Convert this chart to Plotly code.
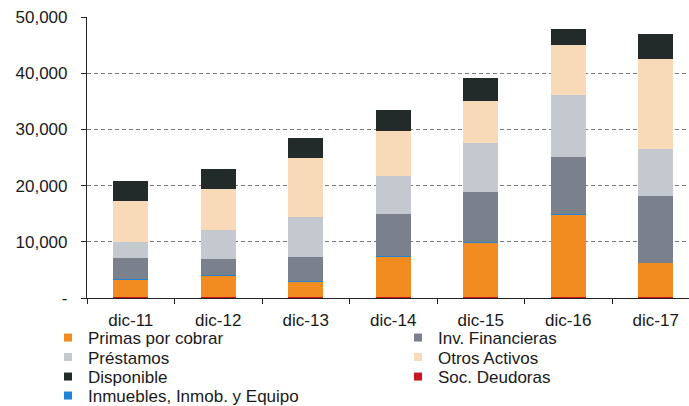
import plotly.graph_objects as go

categories = ["dic-11", "dic-12", "dic-13", "dic-14", "dic-15", "dic-16", "dic-17"]

soc_deudoras = [150, 120, 100, 120, 130, 150, 150]
primas_por_cobrar = [3200, 3900, 2800, 7300, 9800, 14700, 6100]
inmuebles = [50, 50, 50, 50, 50, 50, 60]
inv_financieras = [3650, 2950, 4350, 7400, 8900, 10200, 11800]
prestamos = [2900, 5000, 7200, 6800, 8700, 11000, 8400]
otros_activos = [7300, 7400, 10400, 8000, 7500, 9000, 16100]
disponible = [3600, 3500, 3600, 3800, 4100, 2800, 4400]

y_tickvals = [0, 10000, 20000, 30000, 40000, 50000]
y_ticktext = ["-", "10,000", "20,000", "30,000", "40,000", "50,000"]

# stacking order (bottom -> top)
series = [
    ("Soc. Deudoras", soc_deudoras, "#C8161D"),
    ("Primas por cobrar", primas_por_cobrar, "#F28C21"),
    ("Inmuebles, Inmob. y Equipo", inmuebles, "#1F86D6"),
    ("Inv. Financieras", inv_financieras, "#7B818C"),
    ("Préstamos", prestamos, "#C4C9CF"),
    ("Otros Activos", otros_activos, "#F8DAB8"),
    ("Disponible", disponible, "#232B2A"),
]
colors = {name: color for name, _, color in series}

# legend layout: (name, column, row)
legend_layout = [
    ("Primas por cobrar", 0, 0),
    ("Inv. Financieras", 1, 0),
    ("Préstamos", 0, 1),
    ("Otros Activos", 1, 1),
    ("Disponible", 0, 2),
    ("Soc. Deudoras", 1, 2),
    ("Inmuebles, Inmob. y Equipo", 0, 3),
]

font_family = "Liberation Sans, Arial, sans-serif"
W, H = 689, 406
ML, MR, MT, MB = 87, 0, 17, 108
plot_w = W - ML - MR
plot_h = H - MT - MB

fig = go.Figure()
for name, vals, color in series:
    fig.add_trace(go.Bar(
        x=categories, y=vals, name=name,
        marker=dict(color=color, line=dict(width=0)),
        width=0.4, showlegend=False,
    ))

col_text_px = [88, 438]
row_center_px = [338, 357.5, 377, 396]
legend_defs = {}
for i, (name, col, row) in enumerate(legend_layout):
    key = "legend" if i == 0 else f"legend{i + 1}"
    fig.add_trace(go.Scatter(
        x=[None], y=[None], mode="markers", name=name,
        marker=dict(symbol="square", size=8, color=colors[name]),
        legend=key, showlegend=True, hoverinfo="skip",
    ))
    left_px = col_text_px[col] - 40
    legend_defs[key] = dict(
        x=(left_px - ML) / plot_w,
        y=(MT + plot_h - row_center_px[row]) / plot_h,
        xanchor="left", yanchor="middle",
        orientation="v", itemwidth=30,
        bgcolor="rgba(0,0,0,0)", borderwidth=0,
        font=dict(size=17, family=font_family, color="#1a1a1a"),
    )

fig.update_layout(
    barmode="stack",
    width=W, height=H,
    margin=dict(l=ML, r=MR, t=MT, b=MB, autoexpand=False),
    plot_bgcolor="white", paper_bgcolor="white",
    font=dict(family=font_family, size=17, color="#1a1a1a"),
    showlegend=True,
    xaxis=dict(
        range=[-0.5, 6.38],
        showline=True, linecolor="#222", linewidth=1.2,
        ticks="outside", tickson="boundaries", ticklen=5, tickcolor="#222",
        showgrid=False, tickfont=dict(size=17),
        ticklabelstandoff=6,
    ),
    yaxis=dict(
        range=[0, 50000],
        tickvals=y_tickvals, ticktext=y_ticktext,
        showline=True, linecolor="#222", linewidth=1.2,
        ticks="outside", ticklen=5, tickcolor="#222",
        showgrid=True, gridcolor="#7a7a7a", griddash="4px,3px", gridwidth=1,
        zeroline=False, tickfont=dict(size=17),
        ticklabelstandoff=10,
    ),
    **legend_defs,
)

fig.write_html(
    "out.html",
    config={"displayModeBar": False},
    post_script="document.body.style.margin='0';document.body.style.overflow='hidden';",
)
